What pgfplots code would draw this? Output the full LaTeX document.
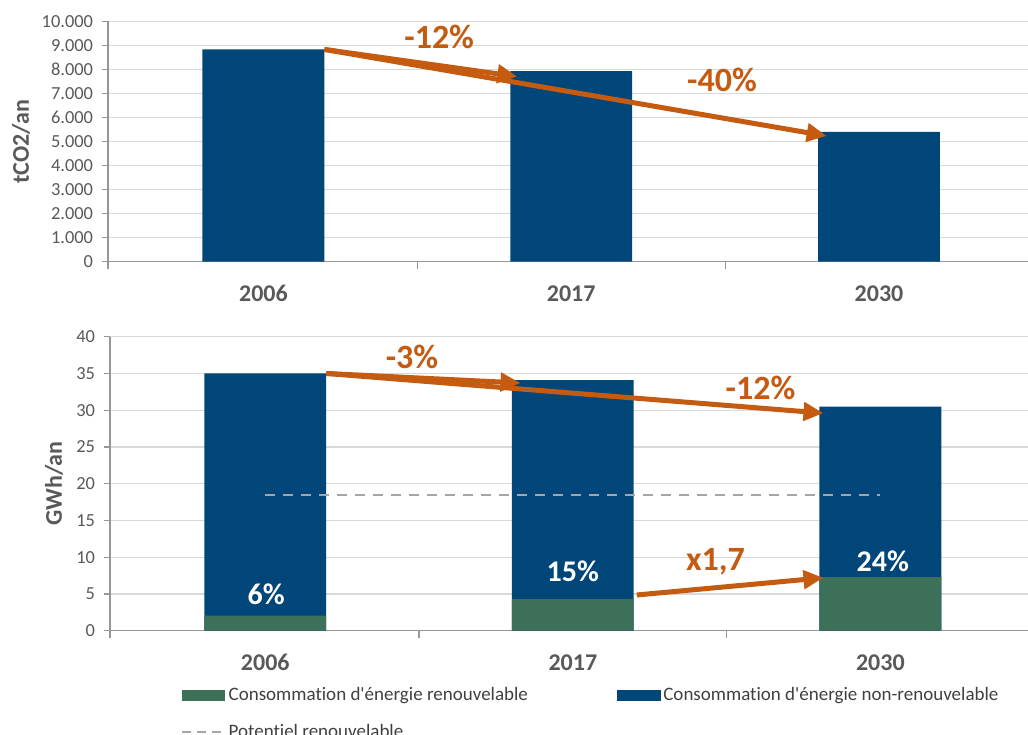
\documentclass[border=0pt]{standalone}
\usepackage{fontspec}
\setmainfont{Carlito}[Ligatures={NoCommon}]
\usepackage{pgfplots}
\pgfplotsset{compat=1.18}
\usetikzlibrary{arrows.meta}
\definecolor{cblue}{RGB}{0,70,121}
\definecolor{cgreen}{RGB}{61,112,88}
\definecolor{corange}{RGB}{197,90,17}
\definecolor{ctext}{RGB}{89,89,89}
\definecolor{clegend}{RGB}{64,64,64}
\definecolor{cgrid}{RGB}{217,217,217}
\definecolor{caxis}{RGB}{150,150,150}
\definecolor{cdash}{RGB}{166,166,166}

\tikzset{
  arr/.style={corange, line width=2.5pt, -{Triangle[length=10pt,width=9pt]}},
  pct/.style={anchor=base, text=corange, font=\bfseries\fontsize{17}{20}\selectfont},
  wpct/.style={anchor=base, text=white, font=\bfseries\fontsize{15}{18}\selectfont},
}
\pgfplotsset{
  common/.style={
    scale only axis,
    anchor=south west,
    xmin=-0.505,
    ymin=0,
    axis x line*=bottom, axis y line*=left,
    axis line style={draw=caxis, line width=0.6pt, -},
    ymajorgrids, grid style={draw=cgrid, line width=0.6pt},
    xtick={0,1,2}, xticklabels={2006,2017,2030},
    minor xtick={-0.505,0.5,1.5},
    major x tick style={draw=none},
    minor x tick style={draw=caxis, line width=0.6pt},
    minor tick length=3.5pt,
    major tick length=2.8pt,
    tick align=outside,
    y tick style={draw=caxis, line width=0.6pt},
    xticklabel style={font=\bfseries\fontsize{12}{14}\selectfont, text=ctext, anchor=base, yshift=-17pt},
    yticklabel style={font=\fontsize{9.2}{11}\selectfont, text=ctext, anchor=east, inner sep=0pt, xshift=-4.5pt},
    ylabel style={font=\bfseries\fontsize{12}{14}\selectfont, text=ctext, at={(axis description cs:0,0.5)}, anchor=center},
    /pgf/number format/assume math mode=true,
    /pgf/number format/1000 sep={.},
    scaled y ticks=false,
    clip=false,
  },
}

\begin{document}
\begin{tikzpicture}
\path[use as bounding box] (0,0) rectangle (514pt,367pt);

% ---------- top chart ----------
\begin{axis}[common,
  at={(54pt,236.15pt)},
  width=460pt, height=120.2pt,
  xmax=2.484,
  ymax=10000,
  ytick={0,1000,...,10000},
  ylabel={tCO2/an},
  ylabel style={yshift=43.5pt},
]
\addplot[ybar, bar width=0.396, bar shift=0pt, fill=cblue, draw=none] coordinates {(0,8830) (1,7930) (2,5400)};
\draw[arr] (axis cs:0.198,8830) -- (axis cs:1.83,5230);
\draw[arr] (axis cs:0.198,8830) -- (axis cs:0.825,7700);
\node[pct] at (axis cs:0.571,8848) {-12\%};
\node[pct] at (axis cs:1.49,7059) {-40\%};
\end{axis}

% ---------- bottom chart ----------
\begin{axis}[common,
  at={(55pt,51.65pt)},
  width=459pt, height=147pt,
  xmax=2.48,
  ymax=40,
  ytick={0,5,...,40},
  ylabel={GWh/an},
  ylabel style={yshift=28pt},
  legend columns=2,
  legend cell align=left,
  legend style={draw=none, fill=none, inner sep=0pt,
    at={(axis description cs:0.077,-0.178)}, anchor=north west,
    font=\fontsize{9.5}{11}\selectfont, text=clegend,
    row sep=6.5pt,
    nodes={text height=7pt, text depth=2pt, inner sep=1.5pt},
    /tikz/every even column/.append style={column sep=43pt}},
]
\addlegendimage{legend image code/.code={\fill[cgreen] (0pt,-2.45pt) rectangle (21.3pt,2.45pt);}}
\addlegendentry{Consommation d\textquotesingle{}énergie renouvelable}
\addlegendimage{legend image code/.code={\fill[cblue] (0pt,-2.45pt) rectangle (21.3pt,2.45pt);}}
\addlegendentry{Consommation d\textquotesingle{}énergie non-renouvelable}
\addlegendimage{legend image code/.code={\draw[cdash, line width=1pt, dash pattern=on 4.5pt off 3pt] (0pt,0pt) -- (21.3pt,0pt);}}
\addlegendentry{Potentiel renouvelable}

\addplot[ybar, bar width=0.396, bar shift=0pt, fill=cblue, draw=none, forget plot] coordinates {(0,35.0) (1,34.1) (2,30.5)};
\addplot[ybar, bar width=0.396, bar shift=0pt, fill=cgreen, draw=none, forget plot] coordinates {(0,2.05) (1,4.3) (2,7.3)};
\addplot[sharp plot, cdash, line width=1pt, dash pattern=on 5pt off 4pt, forget plot] coordinates {(0,18.5) (2,18.5)};

\draw[arr] (axis cs:0.198,35) -- (axis cs:1.815,29.6);
\draw[arr] (axis cs:0.198,35) -- (axis cs:0.83,33.7);
\draw[arr] (axis cs:1.208,4.86) -- (axis cs:1.815,7.2);
\node[pct] at (axis cs:0.477,35.74) {-3\%};
\node[pct] at (axis cs:1.61,31.39) {-12\%};
\node[pct] at (axis cs:1.464,8.16) {x1,7};
\node[wpct] at (axis cs:0.003,3.5) {6\%};
\node[wpct] at (axis cs:1.0,6.76) {15\%};
\node[wpct] at (axis cs:2.008,7.99) {24\%};
\end{axis}
\end{tikzpicture}
\end{document}
